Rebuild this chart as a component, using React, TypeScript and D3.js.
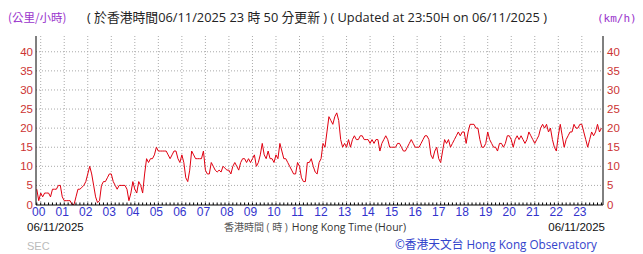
import React from "react";
import * as d3 from "d3";

// 5-minute wind speed readings (km/h), starting 23:50 of previous day
const startMinute = -10;
const stepMinutes = 5;
const preValues = [4, 1];
const hourly: number[][] = [
  [3, 2, 3, 3, 3, 2, 4, 4, 4, 5, 5, 2], // 00
  [1, 1, 1, 1, 0, 0, 2, 4, 4, 4.5, 5, 6], // 01
  [8, 10, 8, 5, 2, 0.5, 1, 5, 6, 6, 7, 8], // 02
  [8, 6, 5, 4, 5, 5, 5, 5, 4, 1, 3, 6], // 03
  [4, 3, 6, 5, 3, 8, 12, 11, 12, 12, 13, 15], // 04
  [14, 14, 14, 14, 14, 13, 12, 13, 14, 14, 12, 11], // 05
  [13, 11, 7, 6, 9, 14, 13, 12, 12, 12, 12, 14], // 06
  [9, 8, 8, 11, 10, 9, 8.5, 9, 8.5, 10, 9.5, 9], // 07
  [9, 8, 10, 11, 10, 9, 11, 12, 12, 11, 12, 11], // 08
  [12, 13, 10, 11, 13, 16, 13, 12, 14, 12, 12, 11], // 09
  [13, 12, 16, 14, 12, 12, 11, 10, 9, 8, 8, 11], // 10
  [10, 7, 6, 6, 11, 11, 12, 10, 8.5, 8, 11, 12], // 11
  [16, 15, 19, 23, 22, 21, 23, 24, 22, 17, 15, 16], // 12
  [15, 17, 15, 17, 18, 17, 17, 18, 18, 17, 17, 17], // 13
  [16, 17, 16, 17, 17, 14, 16, 17, 18, 17, 15, 15], // 14
  [15, 15, 16, 16, 15, 14, 14, 15, 16, 17, 16, 15], // 15
  [15, 15, 16, 17, 18, 18, 17, 13, 12, 14, 15, 12], // 16
  [11, 14, 17, 16, 17, 15, 16, 17, 18, 19, 18, 19], // 17
  [19, 16, 19, 21, 21, 21, 20, 20, 17, 15, 15, 16], // 18
  [19, 17, 16, 15, 15, 14, 16, 16, 15, 16, 18, 18], // 19
  [17, 15, 17, 18, 17, 18, 17, 16, 17, 19, 18, 17], // 20
  [16, 17, 18, 20, 21, 20, 21, 19, 20, 17, 15, 14], // 21
  [18, 21, 18, 15, 17, 18, 19, 19, 21, 20, 20, 21], // 22
  [21, 19, 17, 15, 17, 19, 18, 19, 21, 19, 20], // 23
];

const hourLabels = d3.range(0, 24).map((h) => String(h).padStart(2, "0"));
const yTicks = [0, 5, 10, 15, 20, 25, 30, 35, 40];

const W = 643;
const H = 254;

export default function App() {
  const values = [...preValues, ...hourly.flat()];
  const data = values.map((v, i) => ({ t: (startMinute + i * stepMinutes) / 60, v }));

  const x = d3.scaleLinear().domain([-0.2, 23.9]).range([36, 603]);
  const y = d3.scaleLinear().domain([0, 44]).range([204.5, 36.5]);

  const line = d3
    .line<{ t: number; v: number }>()
    .x((d) => x(d.t))
    .y((d) => y(d.v));

  const minorTicks = d3.range(-0.1667, 23.9, 1 / 6);
  const textFont = "'Open Sans', 'Noto Sans CJK TC', sans-serif";
  const axFont = "'Liberation Sans', Arial, sans-serif";

  return (
    <svg
      width={W}
      height={H}
      style={{ position: "absolute", left: 0, top: 0, background: "#fff" }}
      xmlns="http://www.w3.org/2000/svg"
    >
      <rect x={0} y={0} width={W} height={H} fill="#fff" />
      {/* header */}
      <text x={8} y={22} fontSize={11.5} fill="#9933cc" fontFamily="'Noto Sans CJK TC', sans-serif">
        (公里/小時)
      </text>
      <text
        x={87}
        y={22}
        fontSize={13}
        fill="#222"
        fontFamily={textFont}
        textLength={460}
        lengthAdjust="spacingAndGlyphs"
      >
        ( 於香港時間06/11/2025 23 時 50 分更新 ) ( Updated at 23:50H on 06/11/2025 )
      </text>
      <text x={597} y={22} fontSize={11} fill="#9933cc" fontFamily="'DejaVu Sans Mono', monospace">
        (km/h)
      </text>

      {/* grid */}
      {d3.range(0, 24).map((h) => (
        <line
          key={"gx" + h}
          x1={x(h)}
          x2={x(h)}
          y1={36}
          y2={204.5}
          stroke="#aaa"
          strokeDasharray="1,2"
        />
      ))}
      {yTicks.slice(1).map((v) => (
        <line
          key={"gy" + v}
          x1={36}
          x2={603}
          y1={y(v)}
          y2={y(v)}
          stroke="#aaa"
          strokeDasharray="1,2"
        />
      ))}

      {/* data line */}
      <path d={line(data) || ""} fill="none" stroke="#e00010" strokeWidth={1} />

      {/* axes */}
      <line x1={36} x2={36} y1={36} y2={205} stroke="#000" />
      <line x1={603} x2={603} y1={36} y2={205} stroke="#000" />
      <line x1={36} x2={603} y1={205} y2={205} stroke="#000" />
      {minorTicks.map((t, i) => (
        <line key={"mt" + i} x1={x(t)} x2={x(t)} y1={205} y2={202.5} stroke="#000" />
      ))}

      {yTicks.map((v) => (
        <g key={"yl" + v}>
          <text x={33} y={y(v) + 4} fontSize={11.5} fill="#cc3333" textAnchor="end" fontFamily={axFont}>
            {v}
          </text>
          <text x={607} y={y(v) + 4} fontSize={11.5} fill="#cc3333" textAnchor="start" fontFamily={axFont}>
            {v}
          </text>
        </g>
      ))}
      {hourLabels.map((lab, h) => (
        <text
          key={"xl" + h}
          x={x(h) - 2}
          y={215.5}
          fontSize={12}
          fill="#3333cc"
          textAnchor="middle"
          fontFamily={axFont}
        >
          {lab}
        </text>
      ))}

      {/* footer */}
      <text x={27} y={230.5} fontSize={11.5} fill="#111" fontFamily={axFont}>
        06/11/2025
      </text>
      <text x={605} y={230.5} fontSize={11.5} fill="#111" textAnchor="end" fontFamily={axFont}>
        06/11/2025
      </text>
      <text x={224} y={230.5} fontSize={10.5} fill="#333" fontFamily={textFont}>
        <tspan fontSize={10} fill="#555">香港時間 ( 時 )</tspan>
        <tspan dx={4}>Hong Kong Time (Hour)</tspan>
      </text>
      <text x={27} y={250} fontSize={11} fill="#bbb" fontFamily={axFont}>
        SEC
      </text>
      <text
        x={395}
        y={249}
        fontSize={12.5}
        fill="#3344cc"
        fontFamily={textFont}
        textLength={202}
        lengthAdjust="spacingAndGlyphs"
      >
        ©香港天文台 Hong Kong Observatory
      </text>
    </svg>
  );
}
